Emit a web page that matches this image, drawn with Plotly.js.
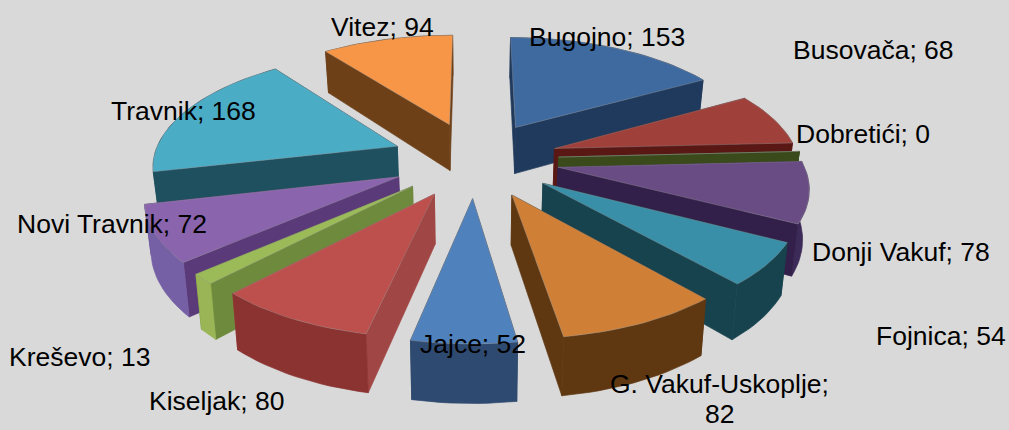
<!DOCTYPE html>
<html>
<head>
<meta charset="utf-8">
<script src="https://cdn.plot.ly/plotly-3.0.1.min.js"></script>
<style>html,body{margin:0;padding:0;background:#d9d9d9;overflow:hidden}#chart{width:1009px;height:430px}</style>
</head>
<body>
<div id="chart"></div>
<script>
// Data
const categories = ['Bugojno','Busovača','Dobretići','Donji Vakuf','Fojnica','G. Vakuf-Uskoplje','Jajce','Kiseljak','Kreševo','Novi Travnik','Travnik','Vitez'];
const values = [153,68,0,78,54,82,52,80,13,72,168,94];
// Styles: top face, radial wall, outer rim
const topColors  = ['#3f6aa0','#a0403b','#5a7030','#6a4c85','#3a8fa8','#d08036','#4f81bd','#bd4f4c','#9bbb59','#8a65ae','#4bacc6','#f79646'];
const wallColors = ['#1f3a5c','#5a1815','#3a4a1a','#33204a','#17434f','#5f3812','#2b4668','#a04644','#6e8a3c','#5a3a78','#1f5060','#6e4018'];
const rimColors  = ['#1f3a5c','#7c2c28','#3a4a1a','#3c2a58','#17434f','#5f3812','#2f4a70','#8b3331','#9ab555','#7560a5','#1f5060','#6e4018'];
const labelX = [607,873,863,901,941,719,473,217,79,112,183,382];
const labelY = [37,50,134,252,336,384,344,401,357,224,111,27];
const wrappedValueY = 414;

// Projection of the tilted, exploded pie
const cx = 475, vy = -614, K = 773, persp = 1/1714, Rx = 244, Rz = 247, E = 84, H = 48, fan = 0.98;
const total = values.reduce((a,b)=>a+b,0);
const rad = d => d*Math.PI/180;
function project(X, Z, low){
  const w = 1 + Z*persp;
  const sx = X/w, sy = vy + K/w;
  return low ? [cx + sx*fan, sy + H/w] : [cx + sx, sy];
}
const traces = [];
function poly(pts, color, lineColor, name){
  traces.push({type:'scatter',mode:'lines',x:pts.map(p=>p[0]),y:pts.map(p=>p[1]),
    fill:'toself',fillcolor:color,line:{color:lineColor,width:0.7},showlegend:false,
    hoverinfo:name?'text':'skip',text:name||'',hoveron:'fills'});
}
let acc = 0;
const slices = values.map((v,i)=>{
  const a0 = acc/total*360; acc += v; const a1 = acc/total*360;
  const mid = (a0+a1)/2;
  return {i,a0,a1,mid,ox:E*Math.sin(rad(mid)),oz:E*Math.cos(rad(mid))};
});
slices.sort((a,b)=>b.oz-a.oz);
slices.forEach(s=>{
  const pt = (ang,r,low)=>project(s.ox+r*Rx*Math.sin(rad(ang)), s.oz+r*Rz*Math.cos(rad(ang)), low);
  const n = Math.max(2,Math.ceil((s.a1-s.a0)/2));
  const angs = []; for(let k=0;k<=n;k++) angs.push(s.a0+(s.a1-s.a0)*k/n);
  const arcTop = angs.map(a=>pt(a,1,false));
  const arcLow = angs.map(a=>pt(a,1,true));
  const apexT = pt(0,0,false), apexL = pt(0,0,true);
  const faces = [
    {z:s.oz+Rz*Math.cos(rad(s.a0))/2, pts:[apexT,pt(s.a0,1,false),pt(s.a0,1,true),apexL,apexT], c:wallColors[s.i]},
    {z:s.oz+Rz*Math.cos(rad(s.a1))/2, pts:[apexT,pt(s.a1,1,false),pt(s.a1,1,true),apexL,apexT], c:wallColors[s.i]},
    {z:s.oz+Rz*Math.cos(rad(s.mid)), pts:arcTop.concat(arcLow.slice().reverse()).concat([arcTop[0]]), c:rimColors[s.i]}
  ].sort((a,b)=>b.z-a.z);
  faces.forEach(f=>poly(f.pts,f.c,f.c));
  poly([apexT].concat(arcTop).concat([apexT]),topColors[s.i],'rgba(150,150,150,0.55)',categories[s.i]+'; '+values[s.i]);
});

const labelFont = {family:'"Liberation Sans",Arial,sans-serif',size:26.5,color:'#000'};
const annotations = categories.map((c,i)=>({
  x:labelX[i],y:labelY[i],xref:'x',yref:'y',borderpad:0,
  text:c==='G. Vakuf-Uskoplje'?c+';':c+'; '+values[i],
  showarrow:false,xanchor:'center',yanchor:'middle',font:labelFont
}));
annotations.push({x:labelX[5],y:wrappedValueY,xref:'x',yref:'y',borderpad:0,text:String(values[5]),
  showarrow:false,xanchor:'center',yanchor:'middle',font:labelFont});

Plotly.newPlot('chart',traces,{
  width:1009,height:430,autosize:false,
  margin:{l:0,r:0,t:0,b:0,pad:0},
  paper_bgcolor:'#d9d9d9',plot_bgcolor:'#d9d9d9',
  xaxis:{visible:false,range:[0,1009],fixedrange:true},
  yaxis:{visible:false,range:[430,0],fixedrange:true},
  annotations,showlegend:false,hovermode:'closest'
},{displayModeBar:false,responsive:false});
</script>
</body>
</html>
